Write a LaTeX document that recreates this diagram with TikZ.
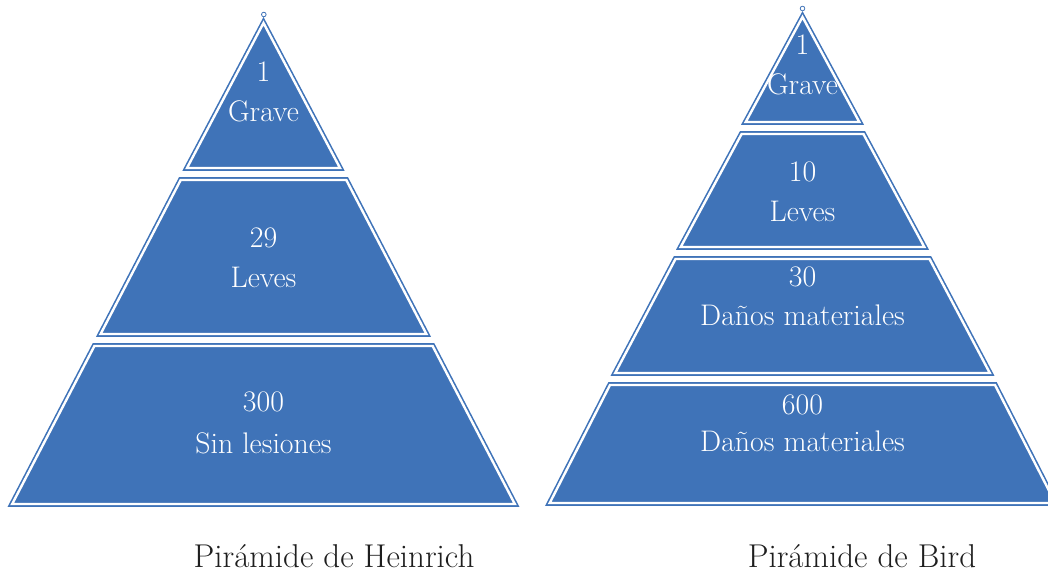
\documentclass[tikz,border=0pt]{standalone}
\usepackage{fontspec}
\definecolor{pblue}{HTML}{3F73B8}
\definecolor{captc}{HTML}{1E1E1E}
\begin{document}
\begin{tikzpicture}[x=1pt,y=-1pt,
  band/.style={fill=pblue,draw=pblue,line width=1.6pt,double=white,double distance=2.4pt,line join=miter},
  lbl/.style={text=white,font=\fontsize{29.8}{34}\selectfont,anchor=base,inner sep=0pt},
  capt/.style={text=captc,font=\fontsize{33}{38}\selectfont,anchor=base,inner sep=0pt},
  tipc/.style={draw=pblue,fill=white,line width=0.8pt}]
\useasboundingbox (0,0) rectangle (1048,573);
% Heinrich pyramid
\draw[band] (263.5,23) -- (340.0,168) -- (187.0,168) -- cycle;
\draw[band] (180.7,180) -- (346.3,180) -- (426.4,334) -- (100.6,334) -- cycle;
\draw[band] (94.4,346) -- (432.6,346) -- (514.8,504) -- (12.2,504) -- cycle;
\draw[tipc] (263.8,14.5) circle (2.3);
% Bird pyramid
\draw[band] (802.5,17) -- (859.3,122) -- (745.7,122) -- cycle;
\draw[band] (741.6,134) -- (863.4,134) -- (924.3,247) -- (680.7,247) -- cycle;
\draw[band] (675.5,259) -- (929.5,259) -- (989.8,373) -- (615.2,373) -- cycle;
\draw[band] (610.0,385) -- (995.0,385) -- (1055.3,503) -- (549.7,503) -- cycle;
\draw[tipc] (802.5,8.5) circle (2.3);
% labels left
\node[lbl] (ha1) at (263.5,81) {1};
\node[lbl] (hb1) at (263.5,121) {Grave};
\node[lbl] (ha2) at (263.5,247) {29};
\node[lbl] (hb2) at (263.5,287) {Leves};
\node[lbl] (ha3) at (263.5,411) {300};
\node[lbl] (hb3) at (263.5,453) {Sin lesiones};
% labels right
\node[lbl] (ba1) at (802.5,54) {1};
\node[lbl] (bb1) at (802.5,94) {Grave};
\node[lbl] (ba2) at (802.5,181) {10};
\node[lbl] (bb2) at (802.5,221) {Leves};
\node[lbl] (ba3) at (802.5,286) {30};
\node[lbl] (bb3) at (802.5,325) {Daños materiales};
\node[lbl] (ba4) at (802.5,414) {600};
\node[lbl] (bb4) at (802.5,451) {Daños materiales};
% captions
\node[capt] (capH) at (334,567) {Pirámide de Heinrich};
\node[capt] (capB) at (862,567) {Pirámide de Bird};
\end{tikzpicture}
\end{document}
